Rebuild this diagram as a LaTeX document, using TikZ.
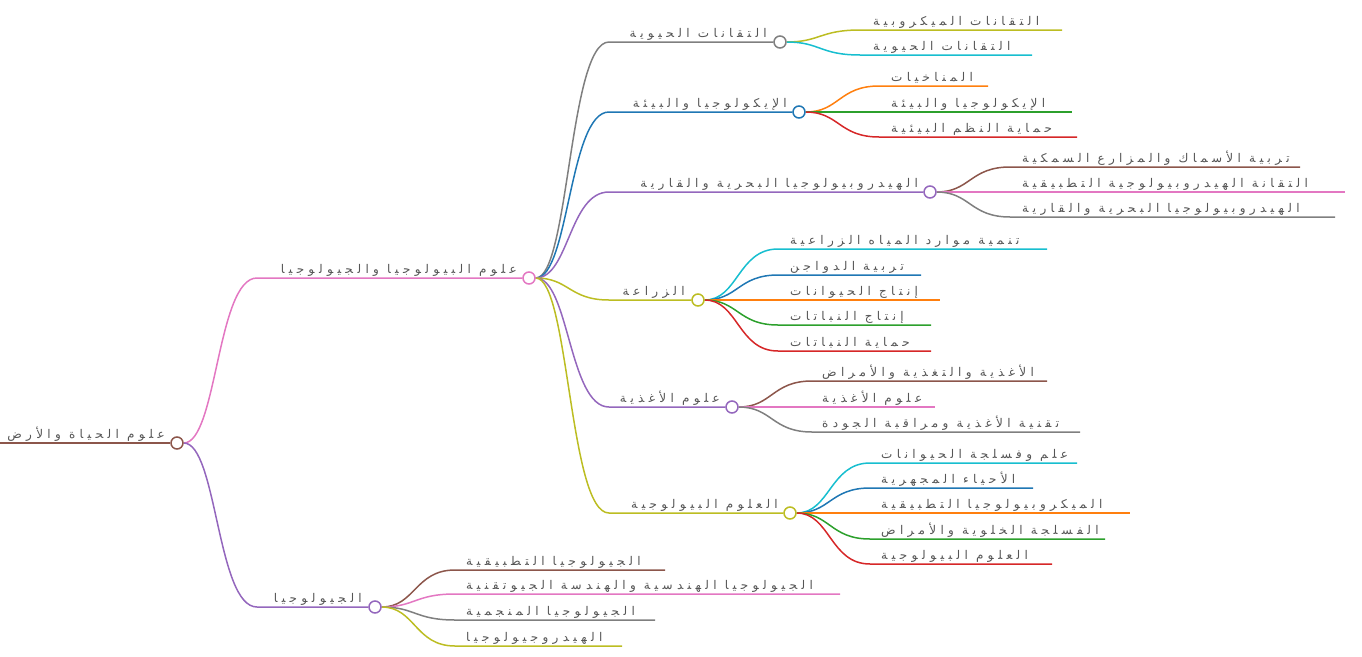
\documentclass[tikz,border=0pt]{standalone}
\usepackage{fontspec}
\newfontfamily\arabicfont[Script=Arabic,LetterSpace=36]{DejaVu Sans}
\TeXXeTstate=1
\pgfdeclarelayer{bg}
\pgfsetlayers{bg,main}
\definecolor{cblue}{HTML}{1F77B4}
\definecolor{corange}{HTML}{FF7F0E}
\definecolor{cgreen}{HTML}{2CA02C}
\definecolor{cred}{HTML}{D62728}
\definecolor{cpurple}{HTML}{9467BD}
\definecolor{cbrown}{HTML}{8C564B}
\definecolor{cpink}{HTML}{E377C2}
\definecolor{cgray}{HTML}{7F7F7F}
\definecolor{colive}{HTML}{BCBD22}
\definecolor{ccyan}{HTML}{17BECF}
\definecolor{txtgray}{HTML}{555555}
\tikzset{
  lbl/.style={anchor=base west,inner sep=0pt,text=txtgray,font=\arabicfont\fontsize{12}{14}\selectfont},
  midlbl/.style={lbl,anchor=base east},
  dot/.style={circle,fill=white,line width=1.5pt,minimum size=12pt,inner sep=0pt},
  link/.style={line width=1.5pt},
}
\begin{document}
\begin{tikzpicture}[x=1pt,y=-1pt]
\useasboundingbox (0,0) rectangle (1362,656);

% root
\coordinate (root-s) at (0,443);
\node[dot,draw=cbrown] (root-c) at (177,443) {};
\node[midlbl] (root) at (165,438) {\beginR علوم الحياة والأرض\endR};

% first level
\coordinate (biogeo-s) at (257,278);
\node[dot,draw=cpink] (biogeo-c) at (529,278) {};
\node[midlbl] (biogeo) at (517,273) {\beginR علوم البيولوجيا والجيولوجيا\endR};
\coordinate (geo-s) at (257,607);
\node[dot,draw=cpurple] (geo-c) at (375,607) {};
\node[midlbl] (geo) at (362,602) {\beginR الجيولوجيا\endR};

% second level
\coordinate (tech-s) at (609,42);
\node[dot,draw=cgray] (tech-c) at (780,42) {};
\node[midlbl] (tech) at (767,37) {\beginR التقانات الحيوية\endR};
\coordinate (eco-s) at (609,112);
\node[dot,draw=cblue] (eco-c) at (799,112) {};
\node[midlbl] (eco) at (787,107) {\beginR الإيكولوجيا والبيئة\endR};
\coordinate (hydro-s) at (609,192);
\node[dot,draw=cpurple] (hydro-c) at (930,192) {};
\node[midlbl] (hydro) at (918,187) {\beginR الهيدروبيولوجيا البحرية والقارية\endR};
\coordinate (agri-s) at (609,300);
\node[dot,draw=colive] (agri-c) at (698,300) {};
\node[midlbl] (agri) at (685,295) {\beginR الزراعة\endR};
\coordinate (food-s) at (609,407);
\node[dot,draw=cpurple] (food-c) at (732,407) {};
\node[midlbl] (food) at (720,402) {\beginR علوم الأغذية\endR};
\coordinate (bio-s) at (609,513);
\node[dot,draw=colive] (bio-c) at (790,513) {};
\node[midlbl] (bio) at (778,508) {\beginR العلوم البيولوجية\endR};

% leaves
\coordinate (tech1-s) at (860,30);\coordinate (tech1-e) at (1062,30);
\node[lbl] (tech1) at (873,25) {\beginR التقانات الميكروبية\endR};
\coordinate (tech2-s) at (860,55);\coordinate (tech2-e) at (1032,55);
\node[lbl] (tech2) at (873,50) {\beginR التقانات الحيوية\endR};

\coordinate (eco1-s) at (879,86);\coordinate (eco1-e) at (988,86);
\node[lbl] (eco1) at (891,81) {\beginR المناخيات\endR};
\coordinate (eco2-s) at (879,112);\coordinate (eco2-e) at (1072,112);
\node[lbl] (eco2) at (891,107) {\beginR الإيكولوجيا والبيئة\endR};
\coordinate (eco3-s) at (879,137);\coordinate (eco3-e) at (1077,137);
\node[lbl] (eco3) at (891,132) {\beginR حماية النظم البيئية\endR};

\coordinate (hydro1-s) at (1010,167);\coordinate (hydro1-e) at (1300,167);
\node[lbl] (hydro1) at (1022,162) {\beginR تربية الأسماك والمزارع السمكية\endR};
\coordinate (hydro2-s) at (1010,192);\coordinate (hydro2-e) at (1345,192);
\node[lbl] (hydro2) at (1022,187) {\beginR التقانة الهيدروبيولوجية التطبيقية\endR};
\coordinate (hydro3-s) at (1010,217);\coordinate (hydro3-e) at (1335,217);
\node[lbl] (hydro3) at (1022,212) {\beginR الهيدروبيولوجيا البحرية والقارية\endR};

\coordinate (agri1-s) at (778,249);\coordinate (agri1-e) at (1047,249);
\node[lbl] (agri1) at (790,244) {\beginR تنمية موارد المياه الزراعية\endR};
\coordinate (agri2-s) at (778,275);\coordinate (agri2-e) at (921,275);
\node[lbl] (agri2) at (790,270) {\beginR تربية الدواجن\endR};
\coordinate (agri3-s) at (778,300);\coordinate (agri3-e) at (940,300);
\node[lbl] (agri3) at (790,295) {\beginR إنتاج الحيوانات\endR};
\coordinate (agri4-s) at (778,325);\coordinate (agri4-e) at (931,325);
\node[lbl] (agri4) at (790,320) {\beginR إنتاج النباتات\endR};
\coordinate (agri5-s) at (778,351);\coordinate (agri5-e) at (931,351);
\node[lbl] (agri5) at (790,346) {\beginR حماية النباتات\endR};

\coordinate (food1-s) at (812,381);\coordinate (food1-e) at (1047,381);
\node[lbl] (food1) at (822,376) {\beginR الأغذية والتغذية والأمراض\endR};
\coordinate (food2-s) at (812,407);\coordinate (food2-e) at (935,407);
\node[lbl] (food2) at (822,402) {\beginR علوم الأغذية\endR};
\coordinate (food3-s) at (812,432);\coordinate (food3-e) at (1080,432);
\node[lbl] (food3) at (822,427) {\beginR تقنية الأغذية ومراقبة الجودة\endR};

\coordinate (bio1-s) at (870,463);\coordinate (bio1-e) at (1077,463);
\node[lbl] (bio1) at (881,458) {\beginR علم وفسلجة الحيوانات\endR};
\coordinate (bio2-s) at (870,488);\coordinate (bio2-e) at (1033,488);
\node[lbl] (bio2) at (881,483) {\beginR الأحياء المجهرية\endR};
\coordinate (bio3-s) at (870,513);\coordinate (bio3-e) at (1130,513);
\node[lbl] (bio3) at (881,508) {\beginR الميكروبيولوجيا التطبيقية\endR};
\coordinate (bio4-s) at (870,539);\coordinate (bio4-e) at (1105,539);
\node[lbl] (bio4) at (881,534) {\beginR الفسلجة الخلوية والأمراض\endR};
\coordinate (bio5-s) at (870,564);\coordinate (bio5-e) at (1052,564);
\node[lbl] (bio5) at (881,559) {\beginR العلوم البيولوجية\endR};

\coordinate (geo1-s) at (455,570);\coordinate (geo1-e) at (665,570);
\node[lbl] (geo1) at (466,565) {\beginR الجيولوجيا التطبيقية\endR};
\coordinate (geo2-s) at (455,594);\coordinate (geo2-e) at (840,594);
\node[lbl] (geo2) at (466,589) {\beginR الجيولوجيا الهندسية والهندسة الجيوتقنية\endR};
\coordinate (geo3-s) at (455,620);\coordinate (geo3-e) at (655,620);
\node[lbl] (geo3) at (466,615) {\beginR الجيولوجيا المنجمية\endR};
\coordinate (geo4-s) at (455,646);\coordinate (geo4-e) at (622,646);
\node[lbl] (geo4) at (466,641) {\beginR الهيدروجيولوجيا\endR};

\begin{pgfonlayer}{bg}
\draw[link,line width=2pt,cbrown] (root-s) -- (root-c);
\draw[link,cpink] (root-c) .. controls +(40,0) and +(-40,0) .. (biogeo-s) -- (biogeo-c);
\draw[link,cpurple] (root-c) .. controls +(40,0) and +(-40,0) .. (geo-s) -- (geo-c);

\draw[link,cgray] (biogeo-c) .. controls +(40,0) and +(-40,0) .. (tech-s) -- (tech-c);
\draw[link,cblue] (biogeo-c) .. controls +(40,0) and +(-40,0) .. (eco-s) -- (eco-c);
\draw[link,cpurple] (biogeo-c) .. controls +(40,0) and +(-40,0) .. (hydro-s) -- (hydro-c);
\draw[link,colive] (biogeo-c) .. controls +(40,0) and +(-40,0) .. (agri-s) -- (agri-c);
\draw[link,cpurple] (biogeo-c) .. controls +(40,0) and +(-40,0) .. (food-s) -- (food-c);
\draw[link,colive] (biogeo-c) .. controls +(40,0) and +(-40,0) .. (bio-s) -- (bio-c);

\draw[link,colive] (tech-c) .. controls +(40,0) and +(-40,0) .. (tech1-s) -- (tech1-e);
\draw[link,ccyan] (tech-c) .. controls +(40,0) and +(-40,0) .. (tech2-s) -- (tech2-e);
\draw[link,corange] (eco-c) .. controls +(40,0) and +(-40,0) .. (eco1-s) -- (eco1-e);
\draw[link,cgreen] (eco-c) .. controls +(40,0) and +(-40,0) .. (eco2-s) -- (eco2-e);
\draw[link,cred] (eco-c) .. controls +(40,0) and +(-40,0) .. (eco3-s) -- (eco3-e);
\draw[link,cbrown] (hydro-c) .. controls +(40,0) and +(-40,0) .. (hydro1-s) -- (hydro1-e);
\draw[link,cpink] (hydro-c) .. controls +(40,0) and +(-40,0) .. (hydro2-s) -- (hydro2-e);
\draw[link,cgray] (hydro-c) .. controls +(40,0) and +(-40,0) .. (hydro3-s) -- (hydro3-e);
\draw[link,ccyan] (agri-c) .. controls +(40,0) and +(-40,0) .. (agri1-s) -- (agri1-e);
\draw[link,cblue] (agri-c) .. controls +(40,0) and +(-40,0) .. (agri2-s) -- (agri2-e);
\draw[link,corange] (agri-c) .. controls +(40,0) and +(-40,0) .. (agri3-s) -- (agri3-e);
\draw[link,cgreen] (agri-c) .. controls +(40,0) and +(-40,0) .. (agri4-s) -- (agri4-e);
\draw[link,cred] (agri-c) .. controls +(40,0) and +(-40,0) .. (agri5-s) -- (agri5-e);
\draw[link,cbrown] (food-c) .. controls +(40,0) and +(-40,0) .. (food1-s) -- (food1-e);
\draw[link,cpink] (food-c) .. controls +(40,0) and +(-40,0) .. (food2-s) -- (food2-e);
\draw[link,cgray] (food-c) .. controls +(40,0) and +(-40,0) .. (food3-s) -- (food3-e);
\draw[link,ccyan] (bio-c) .. controls +(40,0) and +(-40,0) .. (bio1-s) -- (bio1-e);
\draw[link,cblue] (bio-c) .. controls +(40,0) and +(-40,0) .. (bio2-s) -- (bio2-e);
\draw[link,corange] (bio-c) .. controls +(40,0) and +(-40,0) .. (bio3-s) -- (bio3-e);
\draw[link,cgreen] (bio-c) .. controls +(40,0) and +(-40,0) .. (bio4-s) -- (bio4-e);
\draw[link,cred] (bio-c) .. controls +(40,0) and +(-40,0) .. (bio5-s) -- (bio5-e);
\draw[link,cbrown] (geo-c) .. controls +(40,0) and +(-40,0) .. (geo1-s) -- (geo1-e);
\draw[link,cpink] (geo-c) .. controls +(40,0) and +(-40,0) .. (geo2-s) -- (geo2-e);
\draw[link,cgray] (geo-c) .. controls +(40,0) and +(-40,0) .. (geo3-s) -- (geo3-e);
\draw[link,colive] (geo-c) .. controls +(40,0) and +(-40,0) .. (geo4-s) -- (geo4-e);
\end{pgfonlayer}
\end{tikzpicture}
\end{document}
